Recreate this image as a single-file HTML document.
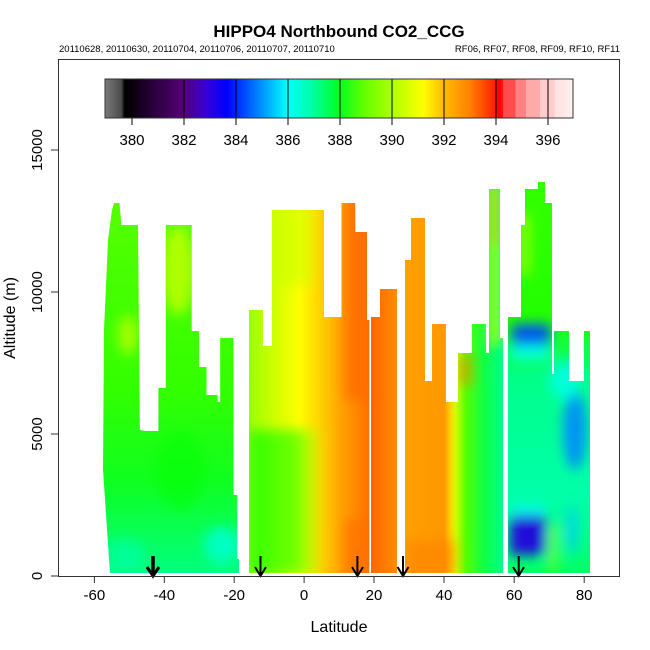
<!DOCTYPE html>
<html><head><meta charset="utf-8"><style>body{margin:0;background:#fff}svg{display:block}text{font-family:"Liberation Sans",sans-serif}</style></head><body>
<svg width="650" height="650" viewBox="0 0 650 650" xmlns="http://www.w3.org/2000/svg">
<defs>
<linearGradient id="cb" x1="105" x2="573" y1="0" y2="0" gradientUnits="userSpaceOnUse">
<stop offset="0" stop-color="#7a7a7a"/><stop offset="0.035" stop-color="#4a4a4a"/><stop offset="0.042" stop-color="#000"/>
<stop offset="0.167" stop-color="#550077"/><stop offset="0.22" stop-color="#3300dd"/><stop offset="0.26" stop-color="#0000ff"/>
<stop offset="0.33" stop-color="#0088ff"/><stop offset="0.389" stop-color="#00ffff"/><stop offset="0.44" stop-color="#00ffaa"/>
<stop offset="0.5" stop-color="#00ff22"/><stop offset="0.555" stop-color="#66ff00"/><stop offset="0.611" stop-color="#aaff00"/>
<stop offset="0.68" stop-color="#ffff00"/><stop offset="0.72" stop-color="#ffc000"/><stop offset="0.78" stop-color="#ff8000"/>
<stop offset="0.833" stop-color="#ff2000"/><stop offset="0.84" stop-color="#ff0000"/><stop offset="0.85" stop-color="#ff1010"/>
<stop offset="0.85" stop-color="#ff4d4d"/><stop offset="0.877" stop-color="#ff4d4d"/><stop offset="0.877" stop-color="#ff8282"/>
<stop offset="0.9" stop-color="#ff8282"/><stop offset="0.9" stop-color="#ffaaaa"/><stop offset="0.93" stop-color="#ffaaaa"/>
<stop offset="0.93" stop-color="#ffcccc"/><stop offset="0.96" stop-color="#ffcccc"/><stop offset="0.96" stop-color="#ffe0e0"/>
<stop offset="1" stop-color="#fff0f0"/>
</linearGradient>
<linearGradient id="gA" x1="0" x2="0" y1="200" y2="573" gradientUnits="userSpaceOnUse">
<stop offset="0" stop-color="#55ff00"/><stop offset="0.5" stop-color="#33ff00"/><stop offset="0.75" stop-color="#10ff20"/><stop offset="1" stop-color="#00ff80"/>
</linearGradient>
<linearGradient id="gB" x1="249" x2="369" y1="0" y2="0" gradientUnits="userSpaceOnUse">
<stop offset="0" stop-color="#99ff00"/><stop offset="0.2" stop-color="#ccff00"/><stop offset="0.42" stop-color="#ffff00"/>
<stop offset="0.6" stop-color="#ffd000"/><stop offset="0.78" stop-color="#ffa000"/><stop offset="1" stop-color="#ff7000"/>
</linearGradient>
<linearGradient id="gBlow" x1="249" x2="330" y1="0" y2="0" gradientUnits="userSpaceOnUse">
<stop offset="0" stop-color="#22ff00"/><stop offset="0.6" stop-color="#66ff00" /><stop offset="1" stop-color="#ccff00" stop-opacity="0"/>
</linearGradient>
<linearGradient id="gC" x1="371" x2="397" y1="0" y2="0" gradientUnits="userSpaceOnUse">
<stop offset="0" stop-color="#ff6600"/><stop offset="1" stop-color="#ff8c00"/>
</linearGradient>
<linearGradient id="gD" x1="405" x2="503" y1="0" y2="0" gradientUnits="userSpaceOnUse">
<stop offset="0" stop-color="#ffa000"/><stop offset="0.4" stop-color="#ff9800"/><stop offset="0.46" stop-color="#ffd000"/>
<stop offset="0.52" stop-color="#ccff00"/><stop offset="0.62" stop-color="#55ff00"/><stop offset="0.8" stop-color="#11ff44"/><stop offset="1" stop-color="#00ff88"/>
</linearGradient>
<linearGradient id="gE" x1="0" x2="0" y1="182" y2="573" gradientUnits="userSpaceOnUse">
<stop offset="0" stop-color="#33ff00"/><stop offset="0.35" stop-color="#22ff00"/><stop offset="0.5" stop-color="#00ff88"/>
<stop offset="0.8" stop-color="#00ffaa"/><stop offset="1" stop-color="#00ff66"/>
</linearGradient>
<filter id="bl" x="-50%" y="-50%" width="200%" height="200%"><feGaussianBlur stdDeviation="6"/></filter>
<clipPath id="cA"><path d="M110,573 L103,470 L104,330 L108,240 L112,210 L114,203 L119.5,203 L121.4,225 L138,225 L139.9,430 L145.4,431 L158.4,431 L158.4,388 L165.8,388 L165.8,225 L191.7,225 L191.7,331 L199.1,331 L199.1,367 L206.5,367 L206.5,395 L217.6,395 L217.6,402 L220.2,402 L220.2,338 L233.5,338 L233.5,495 L237.2,495 L237.2,559 L239,559 L239,573 Z"/></clipPath>
<clipPath id="cB"><path d="M249,573 L249,310 L263,310 L263,346 L272,346 L272,210 L324,210 L324,317 L341.5,317 L341.5,203 L355.2,203 L355.2,232 L367,232 L367,320 L369.3,320 L369.3,573 Z"/></clipPath>
<clipPath id="cD"><path d="M405,573 L405,260 L411,260 L411,218 L425,218 L425,381 L432,381 L432,324 L446,324 L446,402 L458,402 L458,353 L472,353 L472,324 L486,324 L486,353 L489,353 L489,189 L500,189 L500,338 L503,338 L503,573 Z"/></clipPath>
<clipPath id="cE"><path d="M508,573 L508,317 L521,317 L521,225 L525,225 L525,189 L538,189 L538,182 L545,182 L545,203 L552,203 L552,374 L554,374 L554,331 L569,331 L569,381 L584,381 L584,331 L590,331 L590,573 Z"/></clipPath>
</defs>

<g clip-path="url(#cA)">
<rect x="100" y="180" width="145" height="400" fill="url(#gA)"/>
<g filter="url(#bl)">
<ellipse cx="178" cy="270" rx="16" ry="45" fill="#c8ff00" opacity="0.8"/>
<ellipse cx="128" cy="335" rx="10" ry="20" fill="#ccff00" opacity="0.7"/>
<ellipse cx="222" cy="545" rx="18" ry="18" fill="#00ffcc" opacity="0.9"/>
<ellipse cx="125" cy="555" rx="20" ry="16" fill="#00ffaa" opacity="0.7"/>
<ellipse cx="180" cy="470" rx="25" ry="40" fill="#00ff00" opacity="0.5"/>
</g>
</g>
<g clip-path="url(#cB)">
<rect x="245" y="200" width="130" height="380" fill="url(#gB)"/>
<g filter="url(#bl)">
<rect x="249" y="430" width="70" height="145" fill="url(#gBlow)" opacity="0.9"/>
<rect x="272" y="205" width="40" height="80" fill="#ccff00" opacity="0.6"/>
<rect x="345" y="200" width="25" height="200" fill="#ff6a00" opacity="0.7"/>
<rect x="345" y="520" width="25" height="55" fill="#ff7000" opacity="0.7"/>
</g>
</g>
<path d="M371,573 L371,317 L380,317 L380,289 L397,289 L397,573 Z" fill="url(#gC)"/>
<g clip-path="url(#cD)">
<rect x="400" y="185" width="110" height="395" fill="url(#gD)"/>
<g filter="url(#bl)">
<rect x="405" y="540" width="50" height="35" fill="#ff8000" opacity="0.6"/>
<rect x="489" y="185" width="11" height="60" fill="#ffd000" opacity="0.9"/>
<rect x="489" y="245" width="11" height="100" fill="#ddff00" opacity="0.8"/>
<rect x="458" y="355" width="14" height="30" fill="#ff8000" opacity="0.6"/>
</g>
</g>
<g clip-path="url(#cE)">
<rect x="505" y="180" width="90" height="400" fill="url(#gE)"/>
<g filter="url(#bl)">
<rect x="521" y="215" width="8" height="60" fill="#ccff00" opacity="0.8"/>
<rect x="512" y="324" width="38" height="22" fill="#0044ff" opacity="0.9"/>
<rect x="510" y="345" width="40" height="15" fill="#00ffff" opacity="0.8"/>
<ellipse cx="575" cy="430" rx="12" ry="40" fill="#0088ff" opacity="0.9"/>
<ellipse cx="565" cy="380" rx="15" ry="20" fill="#00ffee" opacity="0.8"/>
<rect x="510" y="505" width="36" height="10" fill="#00ffff" opacity="0.8"/>
<rect x="510" y="515" width="36" height="40" fill="#2200dd" opacity="0.95"/>
<rect x="548" y="525" width="10" height="45" fill="#88ff00" opacity="0.7"/>
<ellipse cx="572" cy="530" rx="6" ry="25" fill="#00ccff" opacity="0.8"/>
</g>
</g>

<g stroke="#000" fill="none">
<line x1="153" y1="556" x2="153" y2="575" stroke-width="3.5"/><polyline points="147,567 153,576 159,567" stroke-width="3"/>
<line x1="260.5" y1="556" x2="260.5" y2="575" stroke-width="2"/><polyline points="255,567 260.5,576 266,567" stroke-width="2"/>
<line x1="357.4" y1="556" x2="357.4" y2="575" stroke-width="2"/><polyline points="352,567 357.4,576 363,567" stroke-width="2"/>
<line x1="403" y1="556" x2="403" y2="575" stroke-width="2"/><polyline points="397.5,567 403,576 408.5,567" stroke-width="2"/>
<line x1="518.7" y1="556" x2="518.7" y2="575" stroke-width="2"/><polyline points="513,567 518.7,576 524,567" stroke-width="2"/>
</g>

<rect x="105" y="79" width="468" height="39" fill="url(#cb)"/>
<g stroke="#000" stroke-width="1">
<line x1="132" y1="79" x2="132" y2="125"/><line x1="184" y1="79" x2="184" y2="125"/><line x1="236" y1="79" x2="236" y2="125"/>
<line x1="288" y1="79" x2="288" y2="125"/><line x1="340" y1="79" x2="340" y2="125"/><line x1="392" y1="79" x2="392" y2="125"/>
<line x1="444" y1="79" x2="444" y2="125"/><line x1="496" y1="79" x2="496" y2="125"/><line x1="548" y1="79" x2="548" y2="125"/>
</g>
<rect x="105" y="79" width="468" height="39" fill="none" stroke="#333" stroke-width="1"/>
<g font-size="15" text-anchor="middle" fill="#000">
<text x="132" y="145">380</text><text x="184" y="145">382</text><text x="236" y="145">384</text><text x="288" y="145">386</text>
<text x="340" y="145">388</text><text x="392" y="145">390</text><text x="444" y="145">392</text><text x="496" y="145">394</text><text x="548" y="145">396</text>
</g>

<rect x="58.5" y="59.5" width="561" height="517" fill="none" stroke="#333" stroke-width="1"/>
<g stroke="#333">
<line x1="94.4" y1="576" x2="94.4" y2="583"/><line x1="164.3" y1="576" x2="164.3" y2="583"/><line x1="234.2" y1="576" x2="234.2" y2="583"/>
<line x1="304.1" y1="576" x2="304.1" y2="583"/><line x1="374" y1="576" x2="374" y2="583"/><line x1="444" y1="576" x2="444" y2="583"/>
<line x1="514.2" y1="576" x2="514.2" y2="583"/><line x1="584.2" y1="576" x2="584.2" y2="583"/>
<line x1="51" y1="576" x2="58" y2="576"/><line x1="51" y1="434" x2="58" y2="434"/><line x1="51" y1="292" x2="58" y2="292"/><line x1="51" y1="150" x2="58" y2="150"/>
</g>
<g font-size="15" text-anchor="middle" fill="#000">
<text x="94.4" y="600">-60</text><text x="164.3" y="600">-40</text><text x="234.2" y="600">-20</text><text x="304.1" y="600">0</text>
<text x="374" y="600">20</text><text x="444" y="600">40</text><text x="514.2" y="600">60</text><text x="584.2" y="600">80</text>
<text transform="translate(42,576) rotate(-90)">0</text>
<text transform="translate(42,434) rotate(-90)">5000</text>
<text transform="translate(42,292) rotate(-90)">10000</text>
<text transform="translate(42,150) rotate(-90)">15000</text>
<text x="339" y="632" font-size="16">Latitude</text>
<text transform="translate(15,318) rotate(-90)" font-size="16">Altitude (m)</text>
</g>
<text x="339" y="37" font-size="17" font-weight="bold" text-anchor="middle">HIPPO4 Northbound CO2_CCG</text>
<text x="59" y="52" font-size="9.5">20110628, 20110630, 20110704, 20110706, 20110707, 20110710</text>
<text x="620" y="52" font-size="9.5" text-anchor="end">RF06, RF07, RF08, RF09, RF10, RF11</text>
</svg>
</body></html>
